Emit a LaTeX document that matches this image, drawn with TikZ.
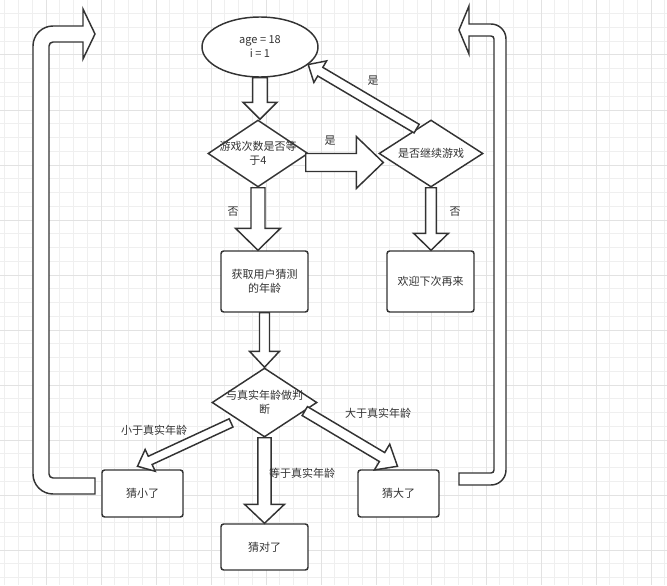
\documentclass[tikz,border=0pt]{standalone}
\usepackage{fontspec}
\setmainfont{Noto Sans CJK SC}
\usetikzlibrary{shapes.geometric,calc}

\definecolor{ink}{HTML}{333333}
\definecolor{gridminor}{HTML}{EFEFEF}
\definecolor{gridmajor}{HTML}{E2E2E2}

\tikzset{
  every node/.style={font=\fontsize{8.25}{10.5}\selectfont, text=ink},
  startstop/.style={ellipse, draw=ink, fill=white, line width=1.1pt, align=center,
    minimum width=87pt, minimum height=45pt},
  decision/.style={diamond, draw=ink, fill=white, line width=1.1pt, inner sep=0pt},
  process/.style={rectangle, rounded corners=2pt, draw=ink, fill=white,
    line width=1.1pt, align=center},
  blockarrow/.style={draw=ink, fill=white, line width=1.1pt},
}

% fat arrow: from, to, half shaft, half head, head length
\newcommand{\fatarrow}[5]{%
  \coordinate (fahead) at ($(#2)!#5!(#1)$);
  \draw[blockarrow] ($(#1)!#3!90:(#2)$) -- ($(fahead)!#3!-90:(#1)$)
    -- ($(fahead)!#4!-90:(#1)$) -- (#2) -- ($(fahead)!#4!90:(#1)$)
    -- ($(fahead)!#3!90:(#1)$) -- ($(#1)!#3!-90:(#2)$) -- cycle;
}

\begin{document}
\begin{tikzpicture}[x=0.75pt, y=-0.75pt]
  \useasboundingbox (0,0) rectangle (667,585);
  % Grid
  \fill[white] (0,0) rectangle (667,585);
  \foreach \gx in {0,...,48}
    \draw[gridminor, line width=0.75pt] ({4.75+13.75*\gx},0) -- ++(0,585);
  \foreach \gy in {1,...,42}
    \draw[gridminor, line width=0.75pt] (0,{13.75*\gy}) -- ++(667,0);
  \foreach \gx in {0,...,11}
    \draw[gridmajor, line width=0.75pt] ({46+55*\gx},0) -- ++(0,585);
  \foreach \gy in {1,...,10}
    \draw[gridmajor, line width=0.75pt] (0,{55*\gy}) -- ++(667,0);

  % Nodes
  \node[startstop] (start) at (260,47) {age = 18\\i = 1};
  \node[decision, minimum width=75pt, minimum height=50.25pt,
    label={[align=center]center:游戏次数是否等\\于4}] (check) at (258,153.5) {};
  \node[decision, minimum width=78pt, minimum height=50.25pt,
    label=center:是否继续游戏] (again) at (431,153.5) {};
  \node[process, minimum width=65.25pt, minimum height=45.75pt] (input) at (264.5,281.5) {获取用户猜测\\的年龄};
  \node[process, minimum width=65.25pt, minimum height=45.75pt] (bye) at (430.5,281.5) {欢迎下次再来};
  \node[decision, minimum width=78.75pt, minimum height=51.75pt,
    label={[align=center]center:与真实年龄做判\\断}] (judge) at (264.5,402.5) {};
  \node[process, minimum width=60.75pt, minimum height=35.25pt] (small) at (142.5,493.5) {猜小了};
  \node[process, minimum width=65.25pt, minimum height=34.5pt] (correct) at (264.5,547) {猜对了};
  \node[process, minimum width=60.75pt, minimum height=35.25pt] (big) at (398.5,493.5) {猜大了};

  % Edges
  \fatarrow{start.south}{start.south |- check.north}{5.6pt}{12.75pt}{12.75pt}
  \coordinate (yesfrom) at ([shift={(-3,9)}]check.east);
  \coordinate (yesto) at ([shift={(5,9)}]again.west);
  \fatarrow{yesfrom}{yesto}{6.75pt}{19.5pt}{20.25pt}
  \fatarrow{again.120}{start.-20}{3.75pt}{9.4pt}{10.5pt}
  \fatarrow{check.south}{check.south |- input.north}{5.25pt}{16.9pt}{16.5pt}
  \fatarrow{again.south}{again.south |- bye.north}{4.1pt}{13.1pt}{12.75pt}
  \fatarrow{input.south}{judge.north}{3.75pt}{11.25pt}{12pt}
  \fatarrow{judge.south}{correct.north}{4.9pt}{15pt}{14.25pt}
  \coordinate (ltfrom) at ([shift={(-5,4)}]judge.-150);
  \coordinate (ltto) at ([shift={(-5,-3)}]small.north);
  \fatarrow{ltfrom}{ltto}{3.4pt}{9pt}{10.5pt}
  \coordinate (gtto) at ([shift={(-1,-3)}]big.north);
  \fatarrow{judge.-12}{gtto}{3.9pt}{11.25pt}{13.5pt}

  % Edge labels
  \node (yes1) at (330,141) {是};
  \node (yes2) at (373,81) {是};
  \node (no1) at (233,212) {否};
  \node (no2) at (455,212) {否};
  \node (lt) at (154,430) {小于真实年龄};
  \node (gt) at (378,413) {大于真实年龄};
  \node (eq) at (302,473) {等于真实年龄};

  % Loop back, left
  \coordinate (lfoot) at (95,478);
  \draw[blockarrow] (lfoot) -- ++(0,16) -- ++(-42,0)
    arc[start angle=-90, end angle=-180, radius=15pt] -- ++(0,-428)
    arc[start angle=180, end angle=90, radius=15pt] -- ++(30,0) -- ++(0,-17)
    -- ++(12,25) -- ++(-12,25) -- ++(0,-17) -- ++(-30,0)
    arc[start angle=90, end angle=180, radius=3pt] -- ++(0,428)
    arc[start angle=180, end angle=270, radius=3pt] -- cycle;

  % Loop back, right
  \coordinate (rfoot) at (459,473);
  \draw[blockarrow] (rfoot) -- ++(0,12) -- ++(32,0)
    arc[start angle=-90, end angle=0, radius=11.25pt] -- ++(0,-431)
    arc[start angle=0, end angle=90, radius=11.25pt] -- ++(-22,0) -- ++(0,-18)
    -- ++(-10,24) -- ++(10,24) -- ++(0,-18) -- ++(22,0)
    arc[start angle=90, end angle=0, radius=2.25pt] -- ++(0,431)
    arc[start angle=0, end angle=-90, radius=2.25pt] -- cycle;
\end{tikzpicture}
\end{document}
